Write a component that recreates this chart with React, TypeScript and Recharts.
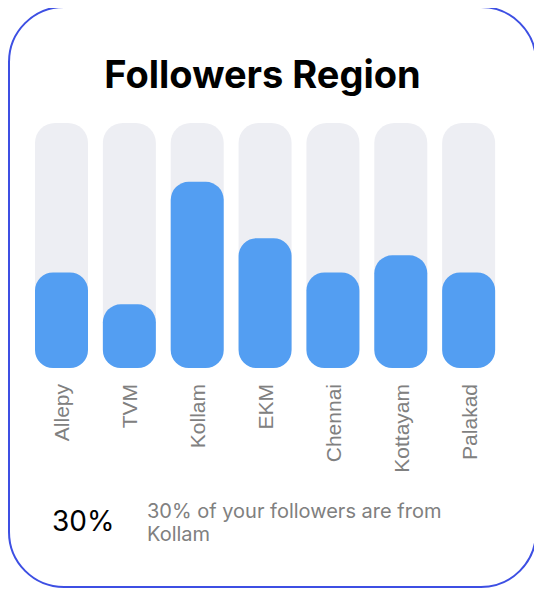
import React from "react"
import { Bar, BarChart, XAxis, YAxis } from "recharts"

const regions = ["Allepy", "TVM", "Kollam", "EKM", "Chennai", "Kottayam", "Palakad"]
const followers = [39, 26, 76, 53, 39, 46, 39]
const yDomain = [0, 100]
const topShare = "30%"
const topRegion = "Kollam"

const data = regions.map((name, i) => ({ name, followers: followers[i] }))

const RegionTick = (props: any) => {
  const { x, y, payload } = props
  return (
    <text
      transform={`translate(${x},${y + 16}) rotate(-90)`}
      textAnchor="end"
      dy="0.36em"
      fill="#808080"
      fontSize={21}
      fontFamily="'Liberation Sans', Arial, sans-serif"
    >
      {payload.value}
    </text>
  )
}

export default function App() {
  return (
    <div
      style={{
        position: "relative",
        marginTop: -2,
        width: 529,
        height: 582,
        boxSizing: "border-box",
        border: "2px solid #3D4FE3",
        borderRadius: 56,
        background: "#fff",
        fontFamily: "Inter, sans-serif",
      }}
    >
      <div
        style={{
          position: "absolute",
          left: 0,
          top: 46,
          width: 505,
          textAlign: "center",
          fontSize: 38,
          lineHeight: "40px",
          fontWeight: 700,
          color: "#000",
        }}
      >
        Followers Region
      </div>

      <div style={{ position: "absolute", left: 18, top: 105 }}>
        <BarChart
          width={475}
          height={375}
          data={data}
          margin={{ top: 10, right: 0, bottom: 0, left: 0 }}
          style={{ overflow: "visible" }}
        >
          <XAxis
            dataKey="name"
            axisLine={false}
            tickLine={false}
            tickSize={0}
            tickMargin={0}
            interval={0}
            height={120}
            tick={<RegionTick />}
          />
          <YAxis hide domain={yDomain} />
          <Bar
            dataKey="followers"
            fill="#539EF2"
            barSize={53}
            radius={[18, 18, 18, 18]}
            background={{ fill: "#EDEEF3", radius: 20 } as any}
            isAnimationActive={false}
          />
        </BarChart>
      </div>

      <div
        style={{
          position: "absolute",
          left: 42,
          top: 499,
          fontSize: 28,
          lineHeight: "28px",
          color: "#000",
        }}
      >
        {topShare}
      </div>
      <div
        style={{
          position: "absolute",
          left: 137,
          top: 492,
          width: 330,
          fontSize: 20,
          lineHeight: "23px",
          color: "#808080",
        }}
      >
        {topShare} of your followers are from {topRegion}
      </div>
    </div>
  )
}
